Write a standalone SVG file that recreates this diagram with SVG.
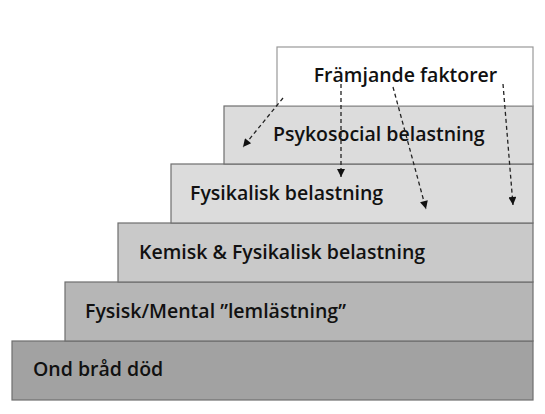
<svg xmlns="http://www.w3.org/2000/svg" width="545" height="414" viewBox="0 0 545 414">
<defs>
<style>
.box{stroke:#6e6e6e;stroke-width:1.2}
.lbl{font-family:"Open Sans","Liberation Sans",sans-serif;font-weight:600;font-size:19.5px;fill:#111}
.arr{fill:none;stroke:#222;stroke-width:1.3;stroke-dasharray:4 3;marker-end:url(#ah)}
</style>
<marker id="ah" viewBox="0 0 10 10" refX="10" refY="5" markerWidth="10" markerHeight="8" markerUnits="userSpaceOnUse" orient="auto">
<path d="M0,0 L10,5 L0,10 z" fill="#111"/>
</marker>
</defs>
<rect width="545" height="414" fill="#fff"/>
<g id="n6"><rect class="box" x="12" y="341" width="521" height="59" fill="#a2a2a2"/><text class="lbl" x="33" y="376">Ond bråd död</text></g>
<g id="n5"><rect class="box" x="65" y="282" width="468" height="59" fill="#b6b6b6"/><text class="lbl" x="85" y="318">Fysisk/Mental ”lemlästning”</text></g>
<g id="n4"><rect class="box" x="118" y="223" width="415" height="59" fill="#c9c9c9"/><text class="lbl" x="139" y="259">Kemisk &amp; Fysikalisk belastning</text></g>
<g id="n3"><rect class="box" x="171" y="164" width="362" height="59" fill="#dcdcdc"/><text class="lbl" x="190" y="200">Fysikalisk belastning</text></g>
<g id="n2"><rect class="box" x="224" y="106" width="309" height="58" fill="#dcdcdc"/><text class="lbl" x="273" y="141">Psykosocial belastning</text></g>
<g id="n1"><rect x="277" y="47" width="256" height="59" fill="#fff" stroke="#999" stroke-width="1.2"/><text class="lbl" x="405.5" y="82" text-anchor="middle">Främjande faktorer</text></g>
<g id="connectors">
<line class="arr" x1="283" y1="98" x2="243" y2="147"/>
<line class="arr" x1="341" y1="84" x2="341" y2="177"/>
<line class="arr" x1="393" y1="87" x2="426" y2="209"/>
<line class="arr" x1="503" y1="84" x2="513" y2="205"/>
</g>
</svg>
